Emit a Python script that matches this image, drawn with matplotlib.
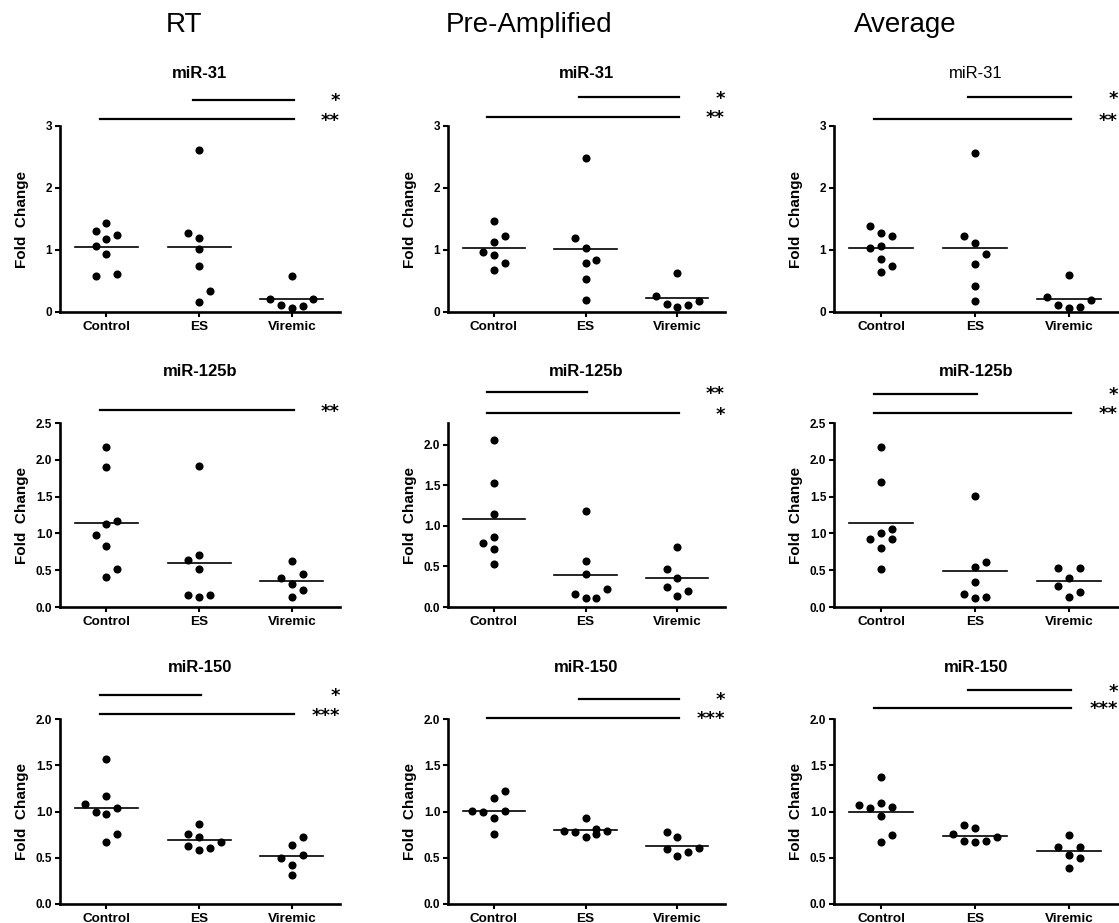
import matplotlib
matplotlib.use("Agg")
import matplotlib.pyplot as plt
import numpy as np

plt.rcParams["font.family"] = ["Liberation Sans", "DejaVu Sans"]

groups = ["Control", "ES", "Viremic"]
methods = ["RT", "Pre-Amplified", "Average"]
mirnas = ["miR-31", "miR-125b", "miR-150"]

# values read per panel (row = miRNA, col = method); slots = horizontal jitter slot
rt_31 = [[1.44, 1.30, 1.25, 1.17, 1.06, 0.94, 0.58, 0.62],
         [2.61, 1.27, 1.20, 1.01, 0.74, 0.34, 0.16],
         [0.58, 0.215, 0.215, 0.11, 0.065, 0.09]]
rt_31_slots = [[0, -1, 1, 0, -1, 0, -1, 1], [0, -1, 0, 0, 0, 1, 0], [0, -2, 2, -1, 0, 1]]
pa_31 = [[1.46, 1.22, 1.13, 0.97, 0.92, 0.79, 0.68],
         [2.48, 1.19, 1.03, 0.84, 0.79, 0.54, 0.19],
         [0.63, 0.26, 0.135, 0.08, 0.11, 0.18]]
pa_31_slots = [[0, 1, 0, -1, 0, 1, 0], [0, -1, 0, 1, 0, 0, 0], [0, -2, -1, 0, 1, 2]]
av_31 = [[1.38, 1.27, 1.23, 1.04, 1.07, 0.86, 0.75, 0.64],
         [2.57, 1.23, 1.11, 0.93, 0.77, 0.42, 0.17],
         [0.60, 0.24, 0.20, 0.11, 0.065, 0.08]]
av_31_slots = [[-1, 0, 1, -1, 0, 0, 1, 0], [0, -1, 0, 1, 0, 0, 0], [0, -2, 2, -1, 0, 1]]

rt_125 = [[2.18, 1.90, 1.13, 1.17, 0.98, 0.83, 0.51, 0.41],
          [1.92, 0.70, 0.64, 0.52, 0.16, 0.13, 0.16],
          [0.62, 0.39, 0.45, 0.31, 0.23, 0.14]]
rt_125_slots = [[0, 0, 0, 1, -1, 0, 1, 0], [0, 0, -1, 0, -1, 0, 1], [0, -1, 1, 0, 1, 0]]
pa_125 = [[2.06, 1.53, 1.15, 0.79, 0.86, 0.72, 0.53],
          [1.19, 0.57, 0.41, 0.16, 0.11, 0.11, 0.22],
          [0.74, 0.47, 0.36, 0.245, 0.20, 0.13]]
pa_125_slots = [[0, 0, 0, -1, 0, 0, 0], [0, 0, 0, -1, 0, 1, 2], [0, -1, 0, -1, 1, 0]]
av_125 = [[2.18, 1.70, 1.06, 1.00, 0.92, 0.92, 0.80, 0.52],
          [1.51, 0.61, 0.54, 0.34, 0.17, 0.12, 0.13],
          [0.53, 0.53, 0.40, 0.28, 0.21, 0.14]]
av_125_slots = [[0, 0, 1, 0, -1, 1, 0, 0], [0, 1, 0, 0, -1, 0, 1], [-1, 1, 0, -1, 1, 0]]

rt_150 = [[1.565, 1.17, 1.08, 1.00, 0.975, 1.04, 0.67, 0.76],
          [0.866, 0.757, 0.725, 0.623, 0.58, 0.61, 0.67],
          [0.725, 0.634, 0.50, 0.53, 0.42, 0.31]]
rt_150_slots = [[0, 0, -2, -1, 0, 1, 0, 1], [0, -1, 0, -1, 0, 1, 2], [1, 0, -1, 1, 0, 0]]
pa_150 = [[1.146, 1.22, 1.01, 1.00, 1.01, 0.93, 0.757],
          [0.93, 0.79, 0.78, 0.81, 0.79, 0.72, 0.76],
          [0.78, 0.72, 0.60, 0.61, 0.56, 0.515]]
pa_150_slots = [[0, 1, -2, -1, 1, 0, 0], [0, -2, -1, 1, 2, 0, 1], [-1, 0, -1, 2, 1, 0]]
av_150 = [[1.377, 1.07, 1.04, 1.09, 1.045, 0.95, 0.75, 0.667],
          [0.854, 0.82, 0.757, 0.72, 0.68, 0.667, 0.68],
          [0.746, 0.62, 0.62, 0.53, 0.50, 0.39]]
av_150_slots = [[0, -2, -1, 0, 1, 0, 1, 0], [-1, 0, -2, 2, -1, 0, 1], [0, -1, 1, 0, 1, 0]]

# significance bars: (from group, to group, height, stars)
rt_31_sig = [(1, 2, 3.42, "*"), (0, 2, 3.11, "**")]
pa_31_sig = [(1, 2, 3.46, "*"), (0, 2, 3.15, "**")]
av_31_sig = [(1, 2, 3.46, "*"), (0, 2, 3.11, "**")]
rt_125_sig = [(0, 2, 2.67, "**")]
pa_125_sig = [(0, 1, 2.65, "**"), (0, 2, 2.39, "*")]
av_125_sig = [(0, 1, 2.90, "*"), (0, 2, 2.64, "**")]
rt_150_sig = [(0, 1, 2.26, "*"), (0, 2, 2.05, "***")]
pa_150_sig = [(1, 2, 2.22, "*"), (0, 2, 2.01, "***")]
av_150_sig = [(1, 2, 2.31, "*"), (0, 2, 2.12, "***")]

ylims = [[3.0, 3.0, 3.0], [2.5, 2.27, 2.5], [2.0, 2.0, 2.0]]
ticks_31 = [0, 1, 2, 3]
ticks_25 = [0, 0.5, 1.0, 1.5, 2.0, 2.5]
ticks_20 = [0, 0.5, 1.0, 1.5, 2.0]
yticks = [[ticks_31, ticks_31, ticks_31], [ticks_25, ticks_20, ticks_25], [ticks_20, ticks_20, ticks_20]]
bold_title = [[True, True, False], [True, True, True], [True, True, True]]

panels = [
    [(rt_31, rt_31_slots, rt_31_sig), (pa_31, pa_31_slots, pa_31_sig), (av_31, av_31_slots, av_31_sig)],
    [(rt_125, rt_125_slots, rt_125_sig), (pa_125, pa_125_slots, pa_125_sig), (av_125, av_125_slots, av_125_sig)],
    [(rt_150, rt_150_slots, rt_150_sig), (pa_150, pa_150_slots, pa_150_sig), (av_150, av_150_slots, av_150_sig)],
]

W, H = 1119, 923
fig = plt.figure(figsize=(W / 100, H / 100), dpi=100)

col_x = [(60, 340), (448, 725), (834, 1118)]
row_y = [(126, 312), (423, 607), (719, 904)]
header_x = [184, 529, 905]

for c, name in enumerate(methods):
    fig.text(header_x[c] / W, 1 - 25 / H, name, ha="center", va="center", fontsize=20)

for r in range(3):
    for c in range(3):
        vals, slots, sig = panels[r][c]
        x0, x1 = col_x[c]
        y0, y1 = row_y[r]
        ax = fig.add_axes([x0 / W, 1 - y1 / H, (x1 - x0) / W, (y1 - y0) / H])
        for g in range(3):
            v = np.array(vals[g])
            xs = g + 0.117 * np.array(slots[g])
            ax.scatter(xs, v, s=34, color="black", zorder=3, clip_on=False, linewidths=0)
            m = v.mean()
            ax.plot([g - 0.34, g + 0.34], [m, m], color="black", lw=1.2, zorder=2)
        for a, b, yb, stars in sig:
            ax.plot([a - 0.07, b + 0.02], [yb, yb], color="black", lw=1.6, clip_on=False)
            ax.annotate(stars, xy=(1.0, yb), xycoords=("axes fraction", "data"),
                        xytext=(0, -4.6), textcoords="offset points",
                        ha="right", va="baseline", fontsize=13, fontweight="bold",
                        family="DejaVu Sans", annotation_clip=False)
        ax.set_xlim(-0.5, 2.52)
        ax.set_ylim(0, ylims[r][c])
        tk = yticks[r][c]
        ax.set_yticks(tk)
        if r == 0:
            ax.set_yticklabels([str(t) for t in tk])
        else:
            ax.set_yticklabels([f"{t:.1f}" for t in tk])
        ax.set_xticks(range(3))
        ax.set_xticklabels(groups, fontsize=9.7, fontweight="bold")
        for lab in ax.get_yticklabels():
            lab.set_fontweight("bold")
            lab.set_fontsize(8.5)
        ax.tick_params(axis="both", direction="out", length=3.5, width=1.5, pad=2)
        ax.tick_params(axis="x", pad=3)
        for s in ("top", "right"):
            ax.spines[s].set_visible(False)
        for s in ("left", "bottom"):
            ax.spines[s].set_linewidth(1.9)
        ax.set_ylabel("Fold  Change", fontsize=11, fontweight="bold")
        ax.yaxis.set_label_coords(-31 / (x1 - x0), 0.5)
        ax.text(0.5, 1 + 52 / (y1 - y0), mirnas[r], transform=ax.transAxes,
                ha="center", va="center", fontsize=12,
                fontweight="bold" if bold_title[r][c] else "normal")

fig.savefig("out.png", dpi=100)
